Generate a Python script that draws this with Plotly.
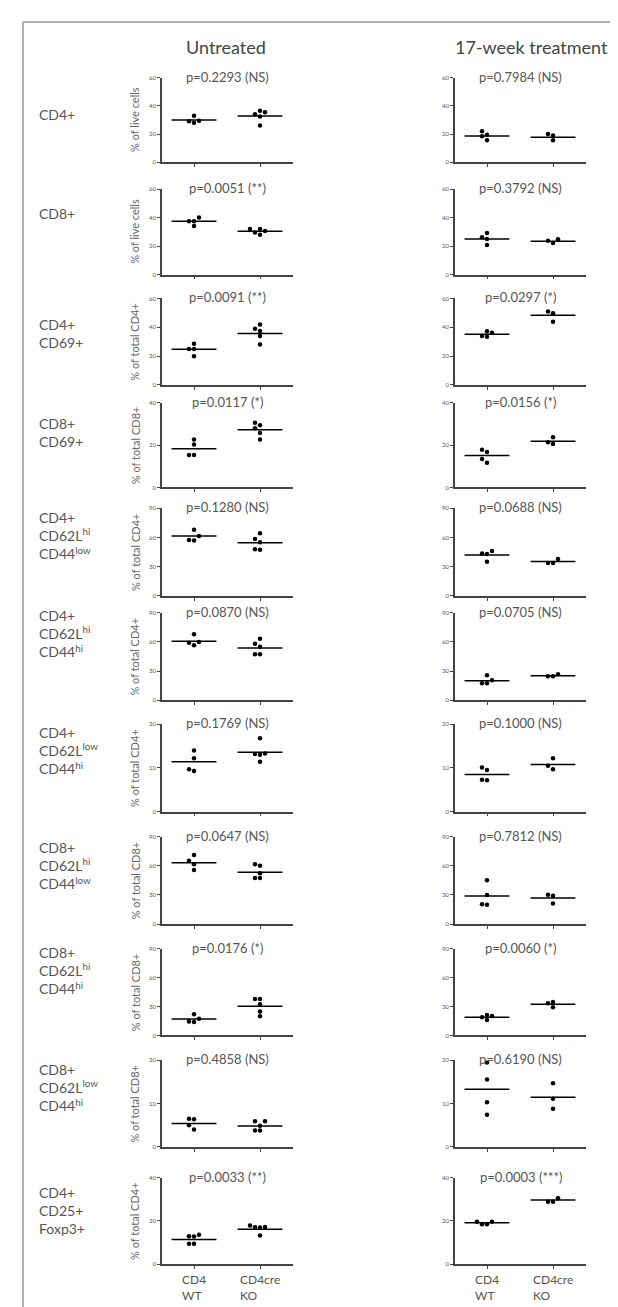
import plotly.graph_objects as go

# ---------------- data ----------------
columns = ["Untreated", "17-week treatment"]
groups = ["CD4<br>WT", "CD4cre<br>KO"]
row_labels = [
    "CD4+",
    "CD8+",
    "CD4+<br>CD69+",
    "CD8+<br>CD69+",
    "CD4+<br>CD62L<sup>hi</sup><br>CD44<sup>low</sup>",
    "CD4+<br>CD62L<sup>hi</sup><br>CD44<sup>hi</sup>",
    "CD4+<br>CD62L<sup>low</sup><br>CD44<sup>hi</sup>",
    "CD8+<br>CD62L<sup>hi</sup><br>CD44<sup>low</sup>",
    "CD8+<br>CD62L<sup>hi</sup><br>CD44<sup>hi</sup>",
    "CD8+<br>CD62L<sup>low</sup><br>CD44<sup>hi</sup>",
    "CD4+<br>CD25+<br>Foxp3+",
]
y_titles = [
    "% of live cells", "% of live cells", "% of total CD4+", "% of total CD8+",
    "% of total CD4+", "% of total CD4+", "% of total CD4+", "% of total CD8+",
    "% of total CD8+", "% of total CD8+", "% of total CD4+",
]
y_max = [60, 60, 60, 40, 90, 90, 20, 90, 90, 20, 40]
y_step = [20, 20, 20, 20, 30, 30, 10, 30, 30, 10, 20]

p_untreated = ["p=0.2293 (NS)", "p=0.0051 (**)", "p=0.0091 (**)", "p=0.0117 (*)",
               "p=0.1280 (NS)", "p=0.0870 (NS)", "p=0.1769 (NS)", "p=0.0647 (NS)",
               "p=0.0176 (*)", "p=0.4858 (NS)", "p=0.0033 (**)"]
p_treated = ["p=0.7984 (NS)", "p=0.3792 (NS)", "p=0.0297 (*)", "p=0.0156 (*)",
             "p=0.0688 (NS)", "p=0.0705 (NS)", "p=0.1000 (NS)", "p=0.7812 (NS)",
             "p=0.0060 (*)", "p=0.6190 (NS)", "p=0.0003 (***)"]

untreated_wt = [
    [33, 29, 28, 29.5],
    [40, 37.5, 37.5, 34],
    [28.6, 25, 25, 20],
    [22.7, 20.3, 15.3, 15.3],
    [68, 61.5, 57, 57.5],
    [67.8, 60, 56.5, 59.2],
    [14, 12.2, 9.3, 9.7],
    [71, 65, 61.5, 55.5],
    [22, 17.5, 14, 14.5],
    [6.5, 6.4, 5.0, 4.0],
    [12.8, 13.0, 13.6, 9.5, 9.5],
]
untreated_ko = [
    [36.5, 35.5, 34, 32.5, 26],
    [32, 32, 30.5, 29.5, 28],
    [42, 39, 37.5, 34, 28],
    [30.6, 29.4, 28, 25.8, 22.7],
    [64.5, 58.5, 55, 47.5, 48],
    [63.4, 58.2, 55, 47.3, 47.3],
    [16.8, 13.3, 13.2, 13.0, 11.4],
    [61.6, 59.9, 52.4, 47.3, 47.3],
    [38, 38, 32.5, 25, 20],
    [5.9, 5.9, 4.9, 3.8, 3.8],
    [17.9, 17.1, 17.0, 17.2, 13.3],
]
untreated_wt_mean = [30, 37.4, 24.7, 18.3, 61.5, 60.6, 11.4, 63, 17.2, 5.4, 11.5]
untreated_ko_mean = [32.8, 30.4, 35.7, 27.3, 54.6, 53.8, 13.6, 53.4, 30.3, 4.8, 16.2]

treated_wt = [
    [22, 19.5, 18.5, 15.5],
    [29.2, 26.2, 25, 20.8],
    [36.3, 37.2, 33.5, 34],
    [17.8, 16.8, 13.5, 11.7],
    [43.6, 43, 46, 35],
    [25.7, 20.5, 17.5, 17.5],
    [10.1, 9.5, 7.2, 7.3],
    [45.2, 29.8, 19.9, 20.5],
    [20.3, 16.2, 19, 21.4],
    [19.5, 15.6, 10.3, 7.4],
    [19.7, 18.5, 18.5, 19.7],
]
treated_ko = [
    [20, 19, 15.6],
    [24.8, 23.8, 22.2],
    [51, 49.7, 43.9],
    [23.8, 20.5, 21.4],
    [37.8, 33.7, 33.7],
    [26.7, 24.7, 24.7],
    [12.2, 9.7, 10.5],
    [30.1, 29.1, 21.2],
    [34.8, 29.3, 33.4],
    [14.7, 11.1, 8.8],
    [30.5, 28.9, 28.9],
]
treated_wt_mean = [18.6, 25, 35.1, 15.1, 41.9, 20.2, 8.5, 28.8, 19.0, 13.3, 19.2]
treated_ko_mean = [17.7, 23.4, 48.3, 21.8, 35.4, 25.3, 10.8, 26.7, 32.4, 11.5, 29.7]

# ---------------- layout constants (pixels) ----------------
W, H = 618, 1307
FONT = "Lato"
TXT = "#555555"
AX = "#444444"
panel_top = [66, 178, 288, 393, 499, 604, 716, 829, 942, 1054, 1172]
panel_bot = [151, 264, 375, 478, 587, 692, 804, 917, 1029, 1141, 1259]
label_center = [103, 203, 323, 423, 526, 625, 742, 858, 964, 1081, 1205]
col_x0 = [154, 447]
col_w = 131
X_RANGE = [-0.485, 1.5]
HALF = 0.34


def py(p):
    return 1 - p / H


def px(p):
    return p / W


def swarm(vals, ppu_y, ppu_x, diam=5.0):
    order = sorted(range(len(vals)), key=lambda i: vals[i])
    placed = []
    offs = [0.0] * len(vals)
    for i in order:
        yv = vals[i] * ppu_y
        for k in [0, -1, 1, -2, 2, -3, 3]:
            xo = k * diam
            ok = all((xo - a) ** 2 + (yv - b) ** 2 >= (diam * 0.95) ** 2 for a, b in placed)
            if ok:
                placed.append((xo, yv))
                offs[i] = xo / ppu_x
                break
    return offs


fig = go.Figure()
annotations = []
layout_axes = {}

col_data = [
    (untreated_wt, untreated_ko, untreated_wt_mean, untreated_ko_mean, p_untreated),
    (treated_wt, treated_ko, treated_wt_mean, treated_ko_mean, p_treated),
]

for r in range(len(row_labels)):
    for c in range(2):
        n = r * 2 + c + 1
        xa = "x" if n == 1 else f"x{n}"
        ya = "y" if n == 1 else f"y{n}"
        wt, ko, mwt, mko, ptxt = col_data[c]
        ppu_x = col_w / (X_RANGE[1] - X_RANGE[0])
        ppu_y = (panel_bot[r] - panel_top[r]) / y_max[r]
        for g, (vals, mean) in enumerate([(wt[r], mwt[r]), (ko[r], mko[r])]):
            offs = swarm(vals, ppu_y, ppu_x)
            fig.add_trace(go.Scatter(
                x=[g + o for o in offs], y=vals, mode="markers",
                marker=dict(color="black", size=4.5),
                xaxis=xa, yaxis=ya, showlegend=False, hoverinfo="y"))
            fig.add_trace(go.Scatter(
                x=[g - HALF, g + HALF], y=[mean, mean], mode="lines",
                line=dict(color="black", width=1.5),
                xaxis=xa, yaxis=ya, showlegend=False, hoverinfo="skip"))
        key = "" if n == 1 else str(n)
        layout_axes["xaxis" + key] = dict(
            domain=[px(col_x0[c]), px(col_x0[c] + col_w)], range=X_RANGE,
            anchor=ya, showgrid=False, zeroline=False, showline=True,
            linecolor=AX, linewidth=1.5, tickmode="array", tickvals=[0, 1],
            ticks="outside", ticklen=3, tickcolor=AX, tickwidth=1,
            showticklabels=False, fixedrange=True)
        layout_axes["yaxis" + key] = dict(
            domain=[py(panel_bot[r]), py(panel_top[r])], range=[0, y_max[r]],
            anchor=xa, showgrid=False, zeroline=False, showline=True,
            linecolor=AX, linewidth=1.5, tickmode="linear", tick0=0, dtick=y_step[r],
            ticks="outside", ticklen=3, tickcolor=AX, tickwidth=1,
            tickfont=dict(size=6, color=TXT, family=FONT), fixedrange=True)
        # p-value text
        annotations.append(dict(
            text=ptxt[r], xref="paper", yref="paper",
            x=px(col_x0[c] + col_w / 2), y=py(panel_top[r] - 1),
            xanchor="center", yanchor="middle", showarrow=False,
            font=dict(size=13, color=TXT, family=FONT)))
        if r == len(row_labels) - 1:
            for g, lab in enumerate(groups):
                annotations.append(dict(
                    text=lab, xref=xa, yref="paper", x=g, y=py(panel_bot[r] + 6),
                    xanchor="center", yanchor="top", align="left", showarrow=False,
                    font=dict(size=12, color=TXT, family=FONT)))
    # y title (left column only)
    annotations.append(dict(
        text=y_titles[r], xref="paper", yref="paper", x=px(127),
        y=py((panel_top[r] + panel_bot[r]) / 2), textangle=-90,
        xanchor="center", yanchor="middle", showarrow=False,
        font=dict(size=11, color="#666666", family=FONT)))
    # row label
    annotations.append(dict(
        text=row_labels[r], xref="paper", yref="paper", x=px(29),
        y=py(label_center[r]), xanchor="left", yanchor="middle", align="left",
        showarrow=False, font=dict(size=14, color=TXT, family=FONT)))

for c, name in enumerate(columns):
    annotations.append(dict(
        text=name, xref="paper", yref="paper", x=px(col_x0[c] + col_w / 2 + (-2 if c == 0 else 11)),
        y=py(35), xanchor="center", yanchor="middle", showarrow=False,
        font=dict(size=18, color="#444444", family=FONT)))

shapes = [
    dict(type="line", xref="paper", yref="paper", x0=px(15), x1=1, y0=py(10), y1=py(10),
         line=dict(color="#9a9a9a", width=1.5)),
    dict(type="line", xref="paper", yref="paper", x0=px(15), x1=px(15), y0=py(10), y1=0,
         line=dict(color="#9a9a9a", width=1.5)),
]

fig.update_layout(
    width=W, height=H, margin=dict(l=0, r=0, t=0, b=0),
    paper_bgcolor="white", plot_bgcolor="white",
    annotations=annotations, shapes=shapes, showlegend=False,
    font=dict(family=FONT, color=TXT),
    **layout_axes)

fig.write_html("out.html", config={"displayModeBar": False})
